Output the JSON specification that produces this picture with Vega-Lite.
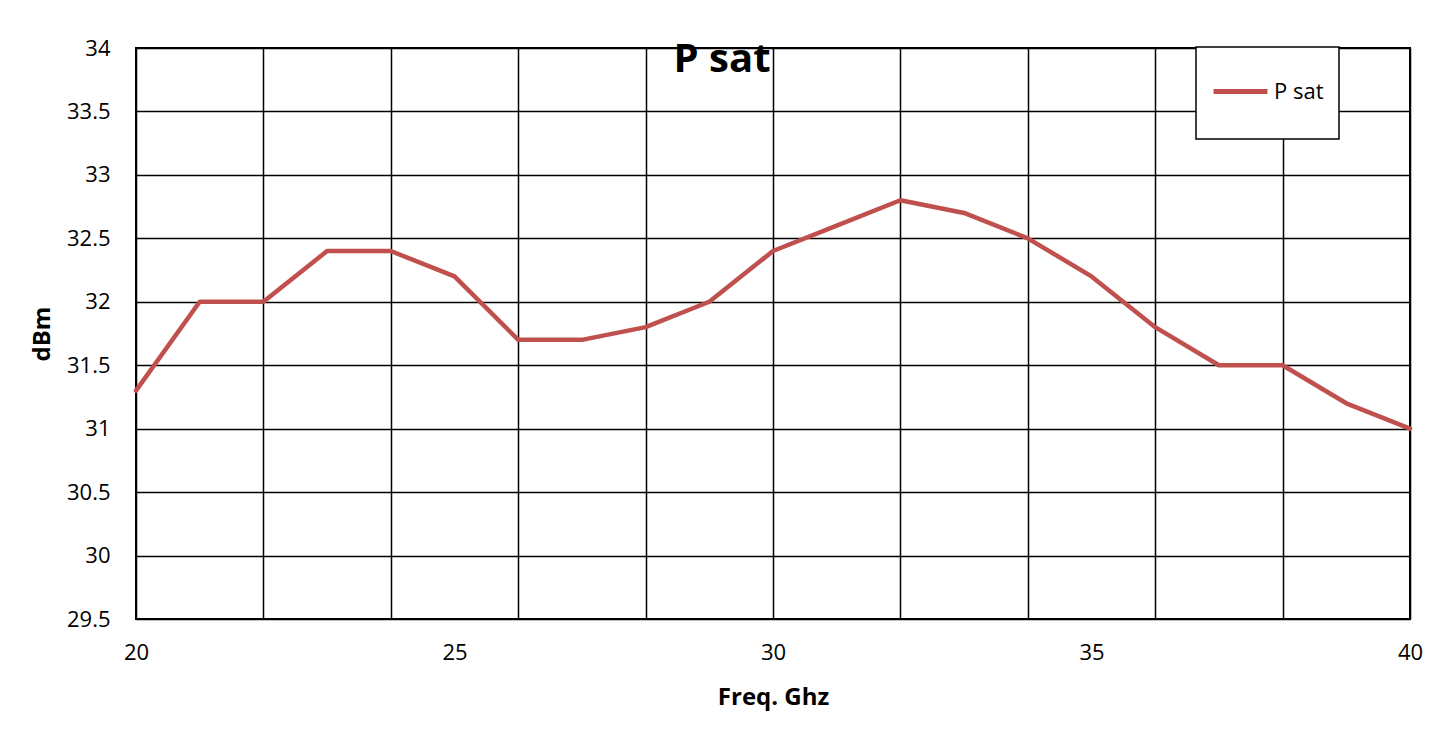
{
  "$schema": "https://vega.github.io/schema/vega-lite/v6.json",
  "autosize": "none",
  "width": 1274,
  "height": 571,
  "padding": {"left": 136, "top": 48, "right": 42, "bottom": 110},
  "background": "white",
  "layer": [
    {
      "data": {
        "values": [
          {"f": 20, "p": 31.3, "s": "P sat"},
          {"f": 21, "p": 32.0, "s": "P sat"},
          {"f": 22, "p": 32.0, "s": "P sat"},
          {"f": 23, "p": 32.4, "s": "P sat"},
          {"f": 24, "p": 32.4, "s": "P sat"},
          {"f": 25, "p": 32.2, "s": "P sat"},
          {"f": 26, "p": 31.7, "s": "P sat"},
          {"f": 27, "p": 31.7, "s": "P sat"},
          {"f": 28, "p": 31.8, "s": "P sat"},
          {"f": 29, "p": 32.0, "s": "P sat"},
          {"f": 30, "p": 32.4, "s": "P sat"},
          {"f": 31, "p": 32.6, "s": "P sat"},
          {"f": 32, "p": 32.8, "s": "P sat"},
          {"f": 33, "p": 32.7, "s": "P sat"},
          {"f": 34, "p": 32.5, "s": "P sat"},
          {"f": 35, "p": 32.2, "s": "P sat"},
          {"f": 36, "p": 31.8, "s": "P sat"},
          {"f": 37, "p": 31.5, "s": "P sat"},
          {"f": 38, "p": 31.5, "s": "P sat"},
          {"f": 39, "p": 31.2, "s": "P sat"},
          {"f": 40, "p": 31.0, "s": "P sat"}
        ]
      },
      "mark": {"type": "line", "strokeWidth": 4.5, "strokeCap": "round", "strokeJoin": "round"},
      "encoding": {
        "x": {
          "field": "f",
          "type": "quantitative",
          "scale": {"domain": [20, 40], "nice": false, "zero": false},
          "axis": {
            "title": "Freq. Ghz",
            "values": [20, 22, 24, 25, 26, 28, 30, 32, 34, 35, 36, 38, 40],
            "format": "~g",
            "labelExpr": "datum.value % 5 == 0 ? datum.label : ''",
            "labelFlush": false,
            "grid": true,
            "gridOpacity": {"condition": {"test": "datum.value % 2 == 0", "value": 1}, "value": 0},
            "labelPadding": 23,
            "titlePadding": 22
          }
        },
        "y": {
          "field": "p",
          "type": "quantitative",
          "scale": {"domain": [29.5, 34], "nice": false, "zero": false},
          "axis": {
            "title": "dBm",
            "values": [29.5, 30, 30.5, 31, 31.5, 32, 32.5, 33, 33.5, 34],
            "format": "~g",
            "labelFlush": false,
            "grid": true,
            "labelPadding": 26,
            "titlePadding": 12
          }
        },
        "color": {
          "field": "s",
          "type": "nominal",
          "scale": {"range": ["#C0504D"]},
          "legend": {
            "title": null,
            "orient": "none",
            "legendX": 1060,
            "legendY": -1,
            "symbolType": "M0,-1.15M-1,0H1M0,0.8",
            "symbolSize": 2900,
            "symbolStrokeWidth": 5,
            "labelFontSize": 22,
            "labelFont": "Open Sans",
            "labelColor": "black",
            "labelOffset": 4,
            "padding": 15,
            "strokeColor": "black",
            "fillColor": "white"
          }
        }
      }
    },
    {
      "data": {"values": [{"t": "P sat"}]},
      "mark": {
        "type": "text",
        "font": "Open Sans",
        "fontSize": 40,
        "fontWeight": "bold",
        "color": "black",
        "align": "center",
        "baseline": "alphabetic"
      },
      "encoding": {
        "x": {"datum": 29.2},
        "y": {"datum": 33.81},
        "text": {"field": "t"}
      }
    }
  ],
  "config": {
    "view": {"stroke": "black", "strokeWidth": 2},
    "axis": {
      "domain": false,
      "ticks": false,
      "tickSize": 0,
      "gridColor": "black",
      "gridWidth": 1.5,
      "labelFont": "Open Sans",
      "labelFontSize": 22,
      "labelColor": "black",
      "titleFont": "Open Sans",
      "titleFontSize": 24,
      "titleFontWeight": "bold",
      "titleColor": "black"
    },
    "legend": {"strokeWidth": 1.5}
  }
}
